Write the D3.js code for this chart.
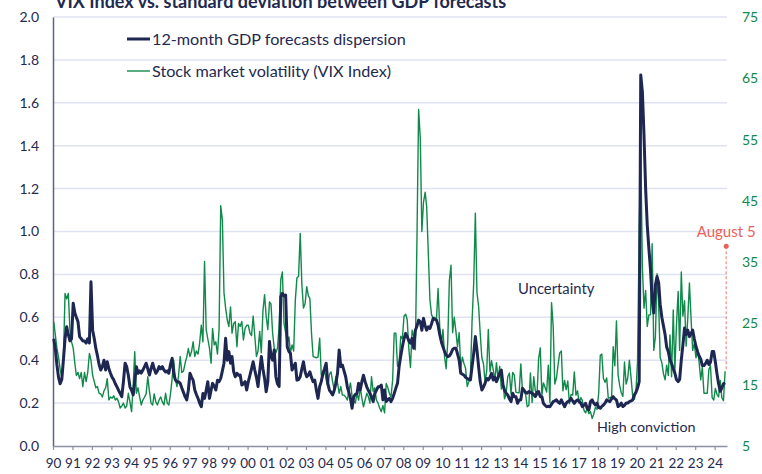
<!DOCTYPE html>
<html>
<head>
<meta charset="utf-8">
<script src="https://cdn.jsdelivr.net/npm/d3@7"></script>
<style>
  body { margin: 0; background: #fff; }
  svg { display: block; font-family: Lato, "Open Sans", sans-serif; }
</style>
</head>
<body>
<svg id="chart" width="762" height="474"></svg>
<script>
// Monthly values, Jan 1990 .. Jul 2024
const dispersion = [
  0.50, 0.45, 0.38, 0.32, 0.29, 0.31, 0.40, 0.50, 0.556, 0.52, 0.49, 0.50, // 1990
  0.665, 0.62, 0.60, 0.58, 0.51, 0.50, 0.49, 0.49, 0.48, 0.50, 0.48, 0.766, // 1991
  0.54, 0.50, 0.455, 0.42, 0.38, 0.354, 0.37, 0.40, 0.354, 0.393, 0.36, 0.339, // 1992
  0.32, 0.308, 0.29, 0.276, 0.26, 0.245, 0.23, 0.30, 0.386, 0.37, 0.33, 0.276, // 1993
  0.26, 0.238, 0.30, 0.37, 0.339, 0.35, 0.34, 0.354, 0.37, 0.386, 0.36, 0.331, // 1994
  0.36, 0.386, 0.36, 0.339, 0.35, 0.37, 0.36, 0.37, 0.354, 0.345, 0.35, 0.339, // 1995
  0.38, 0.409, 0.34, 0.308, 0.30, 0.30, 0.292, 0.27, 0.25, 0.23, 0.215, 0.26, // 1996
  0.339, 0.32, 0.307, 0.261, 0.24, 0.222, 0.20, 0.183, 0.245, 0.222, 0.26, 0.30, // 1997
  0.222, 0.26, 0.292, 0.28, 0.261, 0.307, 0.30, 0.315, 0.35, 0.386, 0.502, 0.40, // 1998
  0.44, 0.386, 0.417, 0.346, 0.323, 0.339, 0.33, 0.331, 0.284, 0.29, 0.30, 0.261, // 1999
  0.30, 0.331, 0.36, 0.393, 0.354, 0.32, 0.277, 0.35, 0.417, 0.36, 0.315, 0.253, // 2000
  0.30, 0.487, 0.42, 0.40, 0.448, 0.323, 0.29, 0.277, 0.696, 0.712, 0.70, 0.704, // 2001
  0.463, 0.44, 0.432, 0.354, 0.37, 0.386, 0.307, 0.31, 0.323, 0.36, 0.393, 0.346, // 2002
  0.323, 0.33, 0.346, 0.32, 0.30, 0.307, 0.26, 0.222, 0.277, 0.30, 0.339, 0.36, // 2003
  0.386, 0.292, 0.261, 0.25, 0.238, 0.26, 0.292, 0.339, 0.448, 0.37, 0.377, 0.35, // 2004
  0.323, 0.276, 0.25, 0.222, 0.176, 0.23, 0.24, 0.245, 0.292, 0.261, 0.30, 0.33, // 2005
  0.30, 0.276, 0.261, 0.245, 0.23, 0.207, 0.245, 0.26, 0.276, 0.276, 0.284, 0.215, // 2006
  0.261, 0.207, 0.215, 0.222, 0.207, 0.222, 0.245, 0.27, 0.292, 0.37, 0.42, 0.463, // 2007
  0.50, 0.525, 0.51, 0.49, 0.479, 0.502, 0.456, 0.54, 0.56, 0.587, 0.58, 0.54, // 2008
  0.595, 0.56, 0.54, 0.556, 0.548, 0.57, 0.595, 0.59, 0.587, 0.564, 0.52, 0.487, // 2009
  0.463, 0.44, 0.424, 0.416, 0.42, 0.432, 0.45, 0.456, 0.456, 0.43, 0.40, 0.339, // 2010
  0.335, 0.33, 0.32, 0.315, 0.31, 0.308, 0.37, 0.432, 0.51, 0.448, 0.37, 0.30, // 2011
  0.261, 0.275, 0.292, 0.315, 0.308, 0.32, 0.339, 0.308, 0.32, 0.30, 0.32, 0.339, // 2012
  0.354, 0.285, 0.26, 0.246, 0.238, 0.22, 0.207, 0.246, 0.23, 0.23, 0.199, 0.215, // 2013
  0.215, 0.269, 0.261, 0.25, 0.246, 0.254, 0.25, 0.246, 0.24, 0.23, 0.25, 0.254, // 2014
  0.23, 0.23, 0.199, 0.19, 0.183, 0.185, 0.183, 0.195, 0.207, 0.21, 0.215, 0.205, // 2015
  0.199, 0.215, 0.20, 0.183, 0.199, 0.207, 0.21, 0.222, 0.21, 0.199, 0.21, 0.215, // 2016
  0.207, 0.20, 0.183, 0.19, 0.199, 0.175, 0.168, 0.207, 0.215, 0.20, 0.191, 0.20, // 2017
  0.18, 0.176, 0.185, 0.191, 0.20, 0.215, 0.21, 0.207, 0.22, 0.23, 0.22, 0.215, // 2018
  0.184, 0.19, 0.20, 0.184, 0.19, 0.20, 0.20, 0.207, 0.21, 0.215, 0.238, 0.25, // 2019
  0.27, 0.30, 1.73, 1.65, 1.45, 1.20, 1.03, 0.92, 0.82, 0.68, 0.62, 0.75, // 2020
  0.79, 0.76, 0.66, 0.60, 0.56, 0.52, 0.46, 0.44, 0.40, 0.385, 0.36, 0.34, // 2021
  0.31, 0.30, 0.31, 0.40, 0.47, 0.55, 0.52, 0.54, 0.51, 0.525, 0.54, 0.50, // 2022
  0.465, 0.44, 0.42, 0.405, 0.375, 0.375, 0.385, 0.40, 0.38, 0.39, 0.44, 0.44, // 2023
  0.39, 0.335, 0.29, 0.255, 0.27, 0.29, 0.295 // 2024
];

const vix = [
  25.3, 23, 21, 19.5, 17.5, 16.3, 19, 29.9, 29, 29.9, 24, 22, // 1990
  21, 18.5, 16.5, 17, 16, 17, 14.7, 17, 15.5, 17, 20.1, 19, // 1991
  16.5, 15.5, 14.5, 14.7, 13.6, 13.5, 13, 14, 14.5, 16, 12.5, 13, // 1992
  12.8, 13.2, 12.5, 12.8, 12.2, 11.2, 11.5, 12, 11.2, 11.5, 13.6, 12.2, // 1993
  10.6, 15, 20.4, 13.6, 14.5, 13, 11.7, 12.5, 13, 13.5, 16.3, 14, // 1994
  12, 11.7, 13.5, 12.2, 11.7, 12.5, 13, 12.2, 11.7, 13.6, 12, 11.7, // 1995
  13.5, 16, 19, 16, 14.7, 16.5, 19.6, 17, 17.2, 18.5, 19.5, 20.9, // 1996
  19.6, 20.5, 22, 19.6, 20.5, 20, 21.8, 24.7, 22, 35.1, 24, 22.5, // 1997
  21, 18.5, 24.2, 21.5, 22, 20, 24, 44.2, 41.9, 30, 27.5, 25.6, // 1998
  24.5, 27.7, 23.4, 25, 25.3, 21.2, 25, 24.5, 25.3, 22.3, 24.2, 24.7, // 1999
  24.7, 23.4, 23, 26.2, 23, 19.6, 20.5, 23.7, 20.2, 27, 29.7, 26.2, // 2000
  24, 28.5, 28.2, 23.4, 21, 20.2, 21, 24.5, 32.1, 33.4, 25, 23.5, // 2001
  21.8, 22.8, 20.2, 21.5, 20.5, 28.8, 32.4, 32.7, 39.7, 31.5, 27.5, 28.2, // 2002
  31, 29.5, 29.1, 23.4, 19.6, 19.5, 19.4, 19.5, 22.6, 16.6, 16.3, 17.4, // 2003
  15.8, 14.6, 16.7, 17.1, 15.5, 14.1, 16.3, 15.3, 13.6, 14.7, 13.3, 13.3, // 2004
  13, 12.5, 14, 15.3, 13.1, 12.3, 12, 13.6, 12.5, 14.5, 12.8, 11.4, // 2005
  12.5, 13.6, 13.1, 12, 16.3, 13.9, 14.5, 12.5, 12, 11.2, 10.6, 11.6, // 2006
  10.4, 15.2, 14.6, 13.6, 13, 15.7, 23.4, 23.4, 18, 18.5, 22.9, 22.5, // 2007
  26.2, 26.5, 25.6, 20.8, 17.8, 23.9, 22.9, 20.7, 39.4, 59.9, 55.3, 40, // 2008
  44.8, 46.4, 44.1, 36.5, 28.9, 26.4, 25.9, 26, 25.6, 30.7, 24.5, 21.7, // 2009
  24, 19.5, 17.6, 22, 32, 34.5, 23.5, 26, 23.7, 21.2, 23.5, 17.8, // 2010
  19.5, 18.4, 17.7, 14.7, 15.5, 16.5, 25.3, 31.6, 43, 30, 27.8, 23.4, // 2011
  19.4, 18.4, 15.5, 17.2, 24, 17.1, 18.9, 17.5, 15.7, 18.6, 15.9, 18, // 2012
  14.3, 15.5, 12.7, 13.5, 16.3, 16.9, 13.5, 17, 16.6, 13.8, 13.7, 13.7, // 2013
  18.4, 14, 13.9, 13.4, 11.4, 11.6, 16.9, 12.1, 16.3, 14, 13.3, 19.2, // 2014
  21, 13.3, 15.3, 14.6, 13.8, 18.2, 12.1, 28.4, 24.5, 15.1, 16.1, 18.2, // 2015
  20.2, 20.5, 14, 15.7, 14.2, 15.6, 11.9, 13.4, 13.3, 17.1, 13.3, 14, // 2016
  12, 12.9, 12.4, 10.8, 10.4, 11.2, 10.3, 10.6, 9.5, 10.2, 11.3, 11, // 2017
  13.5, 19.8, 20, 16, 15.4, 16.1, 12.8, 12.9, 13, 21.2, 18.1, 25.4, // 2018
  16.6, 14.8, 13.7, 13.1, 18.7, 15.1, 16.1, 19, 16.2, 13.2, 12.6, 13.8, // 2019
  18.8, 40.1, 53.5, 34.2, 27.5, 30.4, 24.5, 26.4, 26.4, 38, 20.6, 22.8, // 2020
  33.1, 28, 19.4, 18.6, 16.8, 15.8, 18.2, 16.5, 23.1, 16.3, 27.2, 17.2, // 2021
  24.8, 30.2, 20.6, 33.4, 26.2, 28.7, 21.3, 25.9, 31.6, 25.9, 20.6, 21.7, // 2022
  19.4, 20.7, 18.7, 15.8, 17.9, 13.6, 13.6, 13.6, 17.5, 18.1, 12.9, 12.5, // 2023
  14.4, 13.4, 13, 15.7, 12.9, 12.4, 17.2 // 2024
];

const leftTicks = [0, 0.2, 0.4, 0.6, 0.8, 1.0, 1.2, 1.4, 1.6, 1.8, 2.0];
const rightTicks = [5, 15, 25, 35, 45, 55, 65, 75];
const seriesNames = ['12-month GDP forecasts dispersion', 'Stock market volatility (VIX Index)'];
const august5 = { date: new Date(2024, 7, 5), value: 37.6, label: 'August 5' };

const navy = '#1e2752';
const green = '#10894a';
const textCol = '#1f2a4f';
const red = '#e8625a';

const svg = d3.select('#chart');
const plotLeft = 53, plotRight = 727, plotTop = 17, plotBottom = 446;

const x = d3.scaleTime()
  .domain([new Date(1990, 0, 1), new Date(2024, 7, 20)])
  .range([plotLeft, plotRight]);
const yL = d3.scaleLinear().domain([0, 2]).range([plotBottom, plotTop]);
const yR = d3.scaleLinear().domain([5, 75]).range([plotBottom, plotTop]);

const monthDate = i => new Date(1990, i, 15);

// title (cut off at the top edge, as in the source)
svg.append('text')
  .attr('x', 55).attr('y', 8)
  .attr('fill', textCol)
  .attr('font-size', 18).attr('font-weight', 'bold')
  .text('VIX Index vs. standard deviation between GDP forecasts');

// gridlines
svg.append('g').selectAll('line')
  .data(leftTicks.filter(d => d > 0))
  .join('line')
  .attr('x1', plotLeft).attr('x2', plotRight)
  .attr('y1', d => yL(d)).attr('y2', d => yL(d))
  .attr('stroke', '#dfe2f0').attr('stroke-width', 1.5);

// left axis
const gL = svg.append('g')
  .attr('transform', `translate(${plotLeft},0)`)
  .call(d3.axisLeft(yL).tickValues(leftTicks).tickFormat(d3.format('.1f'))
    .tickSize(0).tickSizeOuter(0).tickPadding(14));
gL.select('.domain').attr('stroke', '#5c6480').attr('stroke-width', 1.5);
gL.selectAll('text').attr('fill', textCol).attr('font-size', 14).attr('font-family', 'Lato, sans-serif');

// right axis
const gR = svg.append('g')
  .attr('transform', `translate(${plotRight},0)`)
  .call(d3.axisRight(yR).tickValues(rightTicks).tickSize(0).tickPadding(15));
gR.select('.domain').remove();
gR.selectAll('text').attr('fill', green).attr('font-size', 14).attr('font-family', 'Lato, sans-serif');

// bottom axis
const gX = svg.append('g')
  .attr('transform', `translate(0,${plotBottom})`)
  .call(d3.axisBottom(x)
    .ticks(d3.timeYear.every(1))
    .tickFormat(d3.timeFormat('%y'))
    .tickSize(4).tickSizeOuter(0).tickPadding(8));
gX.select('.domain').attr('stroke', '#8c91a5').attr('stroke-width', 1.5);
gX.selectAll('.tick line').attr('stroke', '#8c91a5').attr('stroke-width', 1.2);
gX.selectAll('text').attr('fill', textCol).attr('font-size', 13.5).attr('font-family', 'Lato, sans-serif');

// series
const lineL = d3.line().x((d, i) => x(monthDate(i))).y(d => yL(d));
const lineR = d3.line().x((d, i) => x(monthDate(i))).y(d => yR(d));

svg.append('path')
  .datum(vix)
  .attr('d', lineR)
  .attr('fill', 'none').attr('stroke', green).attr('stroke-width', 1.4)
  .attr('stroke-linejoin', 'round');

svg.append('path')
  .datum(dispersion)
  .attr('d', lineL)
  .attr('fill', 'none').attr('stroke', navy).attr('stroke-width', 3)
  .attr('stroke-linejoin', 'round');

// legend
const legend = svg.append('g');
[[navy, 3, 39], [green, 1.4, 71]].forEach(([c, w, ly], i) => {
  legend.append('line')
    .attr('x1', 127).attr('x2', 150).attr('y1', ly).attr('y2', ly)
    .attr('stroke', c).attr('stroke-width', w);
  legend.append('text')
    .attr('x', 152).attr('y', ly).attr('dy', '0.35em')
    .attr('fill', textCol).attr('font-size', 16.2)
    .text(seriesNames[i]);
});

// annotations
svg.append('text')
  .attr('x', 518).attr('y', 289).attr('dy', '0.35em')
  .attr('fill', textCol).attr('font-size', 14.8)
  .text('Uncertainty');
svg.append('text')
  .attr('x', 597).attr('y', 427).attr('dy', '0.35em')
  .attr('fill', textCol).attr('font-size', 14.3)
  .text('High conviction');

const ax = x(august5.date);
const ay = yR(august5.value);
const lastVix = vix[vix.length - 1];
svg.append('line')
  .attr('x1', ax).attr('x2', ax)
  .attr('y1', ay).attr('y2', yR(lastVix))
  .attr('stroke', '#f0908a').attr('stroke-width', 1.2)
  .attr('stroke-dasharray', '3,2');
svg.append('circle')
  .attr('cx', ax).attr('cy', ay).attr('r', 2.5)
  .attr('fill', red);
svg.append('text')
  .attr('x', ax).attr('y', ay - 14).attr('dy', '0.35em')
  .style('text-anchor', 'middle')
  .attr('fill', red).attr('font-size', 15)
  .text(august5.label);
</script>
</body>
</html>
